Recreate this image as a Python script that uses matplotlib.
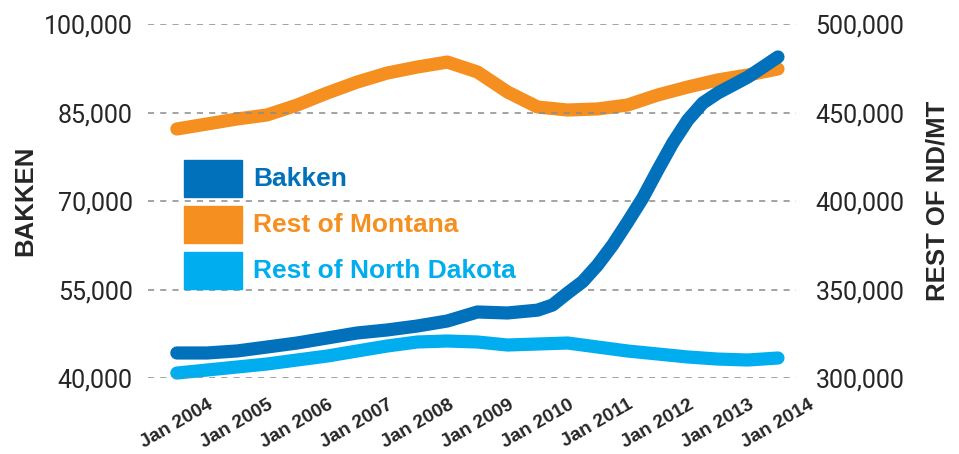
import matplotlib.pyplot as plt
from matplotlib.patches import Rectangle
from matplotlib.ticker import FuncFormatter

# Bakken: half-year steps until 2010, quarterly afterwards (steep part)
anos_bakken = [2004.0, 2004.5, 2005.0, 2005.5, 2006.0, 2006.5, 2007.0, 2007.5, 2008.0, 2008.5,
               2009.0, 2009.5, 2010.0, 2010.25, 2010.5, 2010.75, 2011.0, 2011.25, 2011.5, 2011.75,
               2012.0, 2012.25, 2012.5, 2012.75, 2013.0, 2013.25, 2013.5, 2013.75, 2014.0]
bakken = [44240, 44240, 44580, 45250, 45930, 46780, 47630, 48140, 48810, 49660,
          51190, 51020, 51500, 52370, 54400, 56320, 59150, 62540, 66440, 70500,
          75250, 79830, 83730, 86610, 88310, 89660, 91020, 92700, 94410]

# half-year steps, Jan 2004 .. Jan 2014
anos = [2004 + 0.5 * i for i in range(21)]
resto_montana = [440690, 443500, 446330, 448600, 454200, 461000, 467200, 472300, 475700, 478500,
                 472900, 461600, 453100, 451400, 452000, 454250, 459900, 464400, 468400, 471200, 474600]
resto_dakota = [302800, 304500, 306200, 307900, 310170, 312400, 315250, 318080, 320340, 320900,
                320340, 318640, 319200, 319770, 317500, 315250, 313560, 311870, 310700, 310170, 311300]

anos_ticks = list(range(2004, 2015))
rotulos_x = ["Jan %d" % a for a in anos_ticks]
ticks_esq = [40000, 55000, 70000, 85000, 100000]
ticks_dir = [300000, 350000, 400000, 450000, 500000]

cor_bakken = "#0071BA"
cor_montana = "#F58F1F"
cor_dakota = "#00AEEF"
cor_texto = "#262626"

fig = plt.figure(figsize=(9.59, 4.54), dpi=100)
ax = fig.add_axes([148 / 959, 76 / 454, 648 / 959, 354 / 454])
ax2 = ax.twinx()

ax.set_xlim(2003.52, 2014.30)
ax.set_ylim(40000, 100000)
ax2.set_ylim(300000, 500000)

lw = 9.5
ax2.plot(anos, resto_dakota, color=cor_dakota, lw=lw, solid_capstyle="round",
         solid_joinstyle="round", clip_on=False, zorder=1)
ax2.plot(anos, resto_montana, color=cor_montana, lw=lw, solid_capstyle="round",
         solid_joinstyle="round", clip_on=False, zorder=2)
# bakken fica no eixo da esquerda, mas desenhado por cima
ax.set_zorder(ax2.get_zorder() + 1)
ax.patch.set_visible(False)
ax.plot(anos_bakken, bakken, color=cor_bakken, lw=lw, solid_capstyle="round",
        solid_joinstyle="round", clip_on=False, zorder=3)

fmt = FuncFormatter(lambda v, p: "{:,.0f}".format(v))
ax.set_yticks(ticks_esq)
ax.yaxis.set_major_formatter(fmt)
ax2.set_yticks(ticks_dir)
ax2.yaxis.set_major_formatter(fmt)

for eixo in (ax, ax2):
    for s in eixo.spines.values():
        s.set_visible(False)
    eixo.tick_params(axis="both", length=0)

ax.grid(axis="y", color="#8a8a8a", linestyle=(0, (4, 4)), linewidth=1.1)
ax.grid(axis="x", visible=False)

ax.tick_params(axis="y", pad=11, labelsize=18, labelcolor=cor_texto)
ax2.tick_params(axis="y", pad=14, labelsize=18, labelcolor=cor_texto)
for t in ax.get_yticklabels() + ax2.get_yticklabels():
    t.set_family("Roboto")

ax.set_xticks(anos_ticks)
ax.set_xticklabels(rotulos_x, rotation=30, ha="center", fontsize=13.8,
                   fontweight="bold", family="Liberation Sans", color=cor_texto)
ax.tick_params(axis="x", pad=13)

ax.set_ylabel("BAKKEN", fontsize=18.5, fontweight="bold", family="Liberation Sans",
              color=cor_texto, labelpad=5)
ax2.set_ylabel("REST OF ND/MT", fontsize=18.5, fontweight="bold", family="Liberation Sans",
               color=cor_texto, rotation=90, labelpad=15)

# legenda manual
nomes = ["Bakken", "Rest of Montana", "Rest of North Dakota"]
cores = [cor_bakken, cor_montana, cor_dakota]
for i in range(3):
    y0 = 454 - (160 + 46 * i) - 37
    fig.patches.append(Rectangle((184 / 959, y0 / 454), 58 / 959, 37 / 454,
                                 transform=fig.transFigure, color=cores[i], zorder=5))
    fig.text(253 / 959, (y0 + 18.5) / 454, nomes[i], color=cores[i], fontsize=19,
             fontweight="bold", family="Liberation Sans", va="center", ha="left")

fig.savefig("out.png", dpi=100)
